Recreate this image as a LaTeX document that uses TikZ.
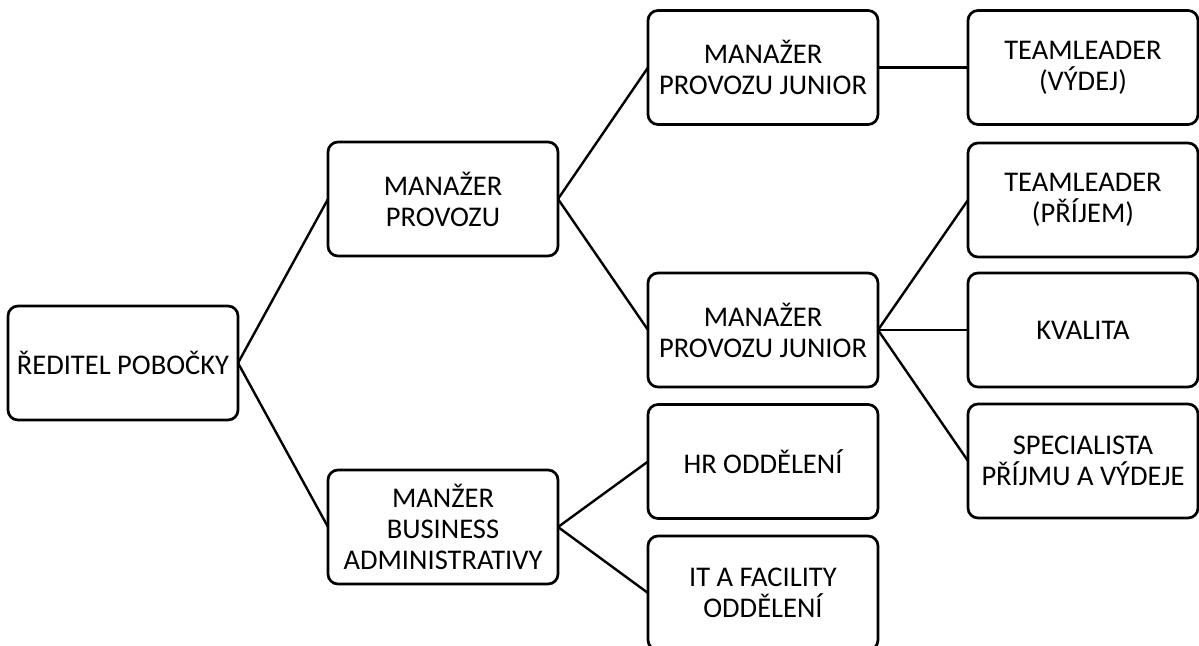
\documentclass[tikz,border=0pt]{standalone}
\usepackage{fontspec}
\setmainfont{Carlito}
\begin{document}
\begin{tikzpicture}[x=1pt,y=-1pt,
  orgbox/.style={draw=black, line width=2.7pt, rounded corners=10pt,
    minimum width=230pt, minimum height=114pt, inner sep=0pt, outer sep=0pt,
    align=center, font=\fontsize{28.5}{31}\selectfont},
  link/.style={draw=black, line width=2.4pt}]
\clip (0,0) rectangle (1199,645);
\path[use as bounding box] (0,0) rectangle (1199,645);

% first level
\node[orgbox] (r) at (123,363) {ŘEDITEL POBOČKY};
% second level
\node[orgbox] (mp)  at (443,199) {MANAŽER\\PROVOZU};
\node[orgbox] (mba) at (443,527) {MANŽER\\BUSINESS\\ADMINISTRATIVY};
% third level
\node[orgbox] (mpj1) at (763,67.5) {MANAŽER\\PROVOZU JUNIOR};
\node[orgbox] (mpj2) at (763,330)  {MANAŽER\\PROVOZU JUNIOR};
\node[orgbox] (hr)   at (763,461.5) {HR ODDĚLENÍ};
\node[orgbox] (it)   at (763,593)  {IT A FACILITY\\ODDĚLENÍ};
% fourth level
\node[orgbox] (tlv) at (1083,67.5) {TEAMLEADER\\(VÝDEJ)};
\node[orgbox] (tlp) at (1083,200) {TEAMLEADER\\(PŘÍJEM)};
\node[orgbox] (kv)  at (1083,330) {KVALITA};
\node[orgbox] (sp)  at (1083,461) {SPECIALISTA\\PŘÍJMU A VÝDEJE};

% connectors
\draw[link] (r.east) -- (mp.west);
\draw[link] (r.east) -- (mba.west);
\draw[link] (mp.east) -- (mpj1.west);
\draw[link] (mp.east) -- (mpj2.west);
\draw[link] (mba.east) -- (hr.west);
\draw[link] (mba.east) -- (it.west);
\draw[link] (mpj1.east) -- (tlv.west);
\draw[link] (mpj2.east) -- (tlp.west);
\draw[link] (mpj2.east) -- (kv.west);
\draw[link] (mpj2.east) -- (sp.west);
\end{tikzpicture}
\end{document}
